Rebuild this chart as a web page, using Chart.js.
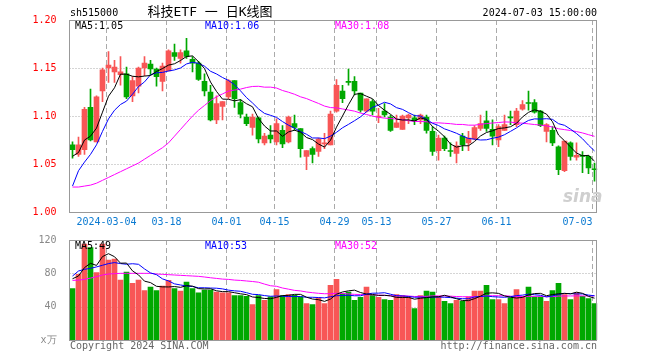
<!DOCTYPE html>
<html><head><meta charset="utf-8">
<script src="https://cdn.jsdelivr.net/npm/chart.js@4.4.0/dist/chart.umd.min.js"></script>
<style>
body{margin:0;background:#fff;width:660px;height:360px;overflow:hidden;position:relative;font-family:"DejaVu Sans Mono","Liberation Mono",monospace;}
canvas{position:absolute;left:0;top:0;}
.t{position:absolute;font-size:10px;white-space:nowrap;line-height:12px;}
</style></head><body>
<canvas id="pc" width="660" height="360"></canvas>
<canvas id="vc" width="660" height="360"></canvas>
<div class="t" style="left:70px;top:7px;color:#000">sh515000</div>
<div class="t" style="left:110px;width:200px;text-align:center;top:4px;font-size:13px;line-height:16px;font-family:'DejaVu Sans Mono','Noto Sans CJK SC',monospace;color:#000">科技ETF 一 日K线图</div>
<div class="t" style="right:63px;top:7px;color:#000">2024-07-03 15:00:00</div>
<div class="t" style="left:75px;top:20px;color:#000">MA5:1.05</div>
<div class="t" style="left:205px;top:20px;color:#0000ff">MA10:1.06</div>
<div class="t" style="left:335px;top:20px;color:#ff00ff">MA30:1.08</div>
<div class="t" style="left:75px;top:240px;color:#000">MA5:49</div>
<div class="t" style="left:205px;top:240px;color:#0000ff">MA10:53</div>
<div class="t" style="left:335px;top:240px;color:#ff00ff">MA30:52</div>
<div class="t" style="left:70px;top:340px;color:#666">Copyright 2024 SINA.COM</div>
<div class="t" style="right:63px;top:340px;color:#666">http://finance.sina.com.cn</div>
<div class="t" style="left:563px;top:186px;font-size:17px;line-height:20px;font-style:italic;font-weight:bold;font-family:'DejaVu Sans',sans-serif;color:#cfcfcf">sina</div>
<script>
const dates = [
'2024-02-23','2024-02-26','2024-02-27','2024-02-28','2024-02-29','2024-03-01','2024-03-04','2024-03-05','2024-03-06','2024-03-07',
'2024-03-08','2024-03-11','2024-03-12','2024-03-13','2024-03-14','2024-03-15','2024-03-18','2024-03-19','2024-03-20','2024-03-21',
'2024-03-22','2024-03-25','2024-03-26','2024-03-27','2024-03-28','2024-03-29','2024-04-01','2024-04-02','2024-04-03','2024-04-08',
'2024-04-09','2024-04-10','2024-04-11','2024-04-12','2024-04-15','2024-04-16','2024-04-17','2024-04-18','2024-04-19','2024-04-22',
'2024-04-23','2024-04-24','2024-04-25','2024-04-26','2024-04-29','2024-04-30','2024-05-06','2024-05-07','2024-05-08','2024-05-09',
'2024-05-10','2024-05-13','2024-05-14','2024-05-15','2024-05-16','2024-05-17','2024-05-20','2024-05-21','2024-05-22','2024-05-23',
'2024-05-24','2024-05-27','2024-05-28','2024-05-29','2024-05-30','2024-05-31','2024-06-03','2024-06-04','2024-06-05','2024-06-06',
'2024-06-07','2024-06-11','2024-06-12','2024-06-13','2024-06-14','2024-06-17','2024-06-18','2024-06-19','2024-06-20','2024-06-21',
'2024-06-24','2024-06-25','2024-06-26','2024-06-27','2024-06-28','2024-07-01','2024-07-02','2024-07-03'];
const tickDates = ['2024-03-04','2024-03-18','2024-04-01','2024-04-15','2024-04-29','2024-05-13','2024-05-27','2024-06-11','2024-07-03'];
const tickTexts = ['2024-03-04','03-18','04-01','04-15','04-29','05-13','05-27','06-11','07-03'];
const openP = [
1.070,1.060,1.065,1.109,1.073,1.126,1.150,1.146,1.143,1.144,
1.121,1.131,1.150,1.154,1.149,1.136,1.147,1.166,1.160,1.168,
1.159,1.155,1.136,1.125,1.096,1.110,1.120,1.137,1.114,1.099,
1.088,1.098,1.072,1.080,1.073,1.085,1.073,1.092,1.087,1.058,
1.066,1.063,1.071,1.070,1.105,1.126,1.136,1.136,1.124,1.105,
1.115,1.099,1.105,1.099,1.088,1.086,1.098,1.098,1.096,1.099,
1.084,1.064,1.077,1.064,1.061,1.079,1.072,1.076,1.087,1.095,
1.086,1.075,1.085,1.099,1.091,1.107,1.114,1.114,1.105,1.084,
1.085,1.068,1.043,1.072,1.057,1.059,1.058,1.045];
const highP = [
1.073,1.078,1.109,1.128,1.121,1.150,1.167,1.158,1.162,1.151,
1.141,1.151,1.162,1.158,1.150,1.155,1.169,1.175,1.169,1.181,
1.162,1.157,1.144,1.132,1.121,1.115,1.138,1.137,1.117,1.102,
1.102,1.099,1.082,1.090,1.097,1.090,1.100,1.101,1.087,1.064,
1.068,1.077,1.082,1.105,1.138,1.132,1.149,1.141,1.124,1.118,
1.117,1.108,1.113,1.101,1.101,1.101,1.102,1.101,1.102,1.101,
1.089,1.080,1.079,1.072,1.073,1.082,1.084,1.090,1.101,1.105,
1.096,1.091,1.101,1.105,1.108,1.116,1.126,1.117,1.106,1.092,
1.089,1.069,1.074,1.073,1.072,1.063,1.059,1.051];
const lowP = [
1.056,1.058,1.060,1.074,1.073,1.115,1.135,1.135,1.132,1.118,
1.115,1.124,1.142,1.143,1.131,1.126,1.147,1.158,1.155,1.160,
1.146,1.137,1.121,1.095,1.092,1.096,1.118,1.109,1.098,1.090,
1.080,1.072,1.070,1.072,1.070,1.067,1.072,1.085,1.057,1.044,
1.051,1.058,1.066,1.070,1.104,1.114,1.132,1.122,1.104,1.104,
1.101,1.093,1.099,1.084,1.088,1.086,1.092,1.091,1.092,1.082,
1.059,1.054,1.064,1.058,1.051,1.064,1.064,1.075,1.085,1.084,
1.070,1.068,1.085,1.091,1.089,1.106,1.106,1.103,1.089,1.073,
1.069,1.039,1.042,1.054,1.054,1.041,1.040,1.032];
const closeP = [
1.065,1.070,1.107,1.075,1.120,1.148,1.153,1.151,1.146,1.120,
1.137,1.150,1.155,1.149,1.141,1.152,1.168,1.162,1.166,1.162,
1.155,1.138,1.126,1.096,1.113,1.115,1.137,1.118,1.102,1.092,
1.099,1.076,1.079,1.076,1.092,1.071,1.099,1.088,1.066,1.064,
1.060,1.076,1.072,1.102,1.132,1.118,1.135,1.126,1.106,1.118,
1.105,1.100,1.101,1.085,1.093,1.100,1.101,1.095,1.101,1.085,
1.063,1.077,1.066,1.063,1.069,1.070,1.077,1.088,1.092,1.087,
1.079,1.089,1.091,1.098,1.105,1.112,1.113,1.104,1.090,1.091,
1.072,1.044,1.074,1.058,1.059,1.058,1.046,1.044];
const volume = [
61.8,78.8,115,111,80.8,115,96,97,72,81.6,
68,72,59.4,63.4,59.4,64.6,71.5,61.8,58.6,69.5,
61.8,56.6,59.8,59.8,57.4,56.6,56.6,53.3,53.3,52.5,
42.4,53.3,47.7,51.7,60.6,53.3,54.5,53.7,51.7,43.6,
42.4,50.5,43.6,65.5,72.7,55.8,57.4,47.7,51.3,63.4,
53.7,51.3,48.5,47.7,54.5,53.3,51.7,37.6,53.3,58.6,
57.4,52.5,46.5,43.6,47.7,46.5,51.7,58.6,58.6,65.5,
48.5,48.5,43.6,50.5,60.6,52.5,63.4,51.7,51.7,46.5,
59.4,67.9,54.5,48.5,56.6,52.5,49.7,43.6];
// moving-average values for the bars before a full window exists
const ma5Lead = [1.058,1.062,1.075,1.079];
const ma10Lead = [1.027,1.043,1.052,1.060,1.070,1.084,1.097,1.106,1.112];
const ma30Lead = [1.026,1.026,1.027,1.028,1.030,1.033,1.036,1.039,1.042,1.045,1.048,1.051,1.055,1.059,1.063,1.067,1.072,1.079,1.086,1.093,1.100,1.106,1.111,1.116,1.120,1.123,1.126,1.127,1.128];
const vma5Lead = [73.5,76.8,86.9,92.0];
const vma10Lead = [76.8,82.8,84.8,86.0,87.7,89.7,91.7,92.9,91.7];
const vma30Lead = [71.5,71.9,72.7,74.3,76.0,78.0,79.2,79.6,80,80,80,80,80,80,79.2,78.8,78.4,78.0,77.6,77.2,76.8,76.4,75.6,74.7,73.9,73.1,72.7,71.9,71.5];
const priceTicks = [1.00,1.05,1.10,1.15,1.20];
const volTicks = [0,40,80,120];

const RED = '#f85656', GREEN = '#00a800';
function movingAvg(vals, n, lead){
  return vals.map((v,i)=> i < n-1 ? lead[i] : vals.slice(i-n+1,i+1).reduce((a,b)=>a+b,0)/n);
}
const up = closeP.map((c,i)=> c >= openP[i]);
const colors = up.map(u=> u ? RED : GREEN);

function lineDs(data,color){
  return {type:'line',data,borderColor:color,borderWidth:1,pointRadius:0,tension:0,fill:false,order:0};
}
const tickIdx = tickDates.map(d=>dates.indexOf(d));

function gridPlugin(hLines, drawLabels){
  return {
    id:'gridframe',
    beforeDatasetsDraw(chart){
      const {ctx, chartArea:a, scales:{x,y}} = chart;
      ctx.save();
      ctx.strokeStyle = '#aaa'; ctx.lineWidth = 1;
      ctx.setLineDash([1,2]);
      hLines.forEach(v=>{
        const py = Math.round(y.getPixelForValue(v)) + 0.5;
        ctx.beginPath(); ctx.moveTo(a.left, py); ctx.lineTo(a.right, py); ctx.stroke();
      });
      ctx.setLineDash([5,3]);
      tickIdx.forEach(i=>{
        const px = x.getPixelForValue(i) - 2;
        ctx.beginPath(); ctx.moveTo(px, a.top); ctx.lineTo(px, a.bottom); ctx.stroke();
      });
      ctx.restore();
    },
    afterDatasetsDraw(chart){
      const {ctx, chartArea:a} = chart;
      ctx.save();
      ctx.strokeStyle = '#999'; ctx.lineWidth = 1;
      ctx.strokeRect(Math.floor(a.left)+0.5, Math.floor(a.top)+0.5, Math.round(a.right-a.left)-1, Math.round(a.bottom-a.top));
      ctx.restore();
    },
    afterDraw(chart){
      if(!drawLabels) return;
      const {ctx, chartArea:a, scales:{x}} = chart;
      ctx.save();
      ctx.fillStyle = '#0b7ad1';
      ctx.font = '10px "DejaVu Sans Mono", monospace';
      ctx.textBaseline = 'middle';
      tickIdx.forEach((i,k)=>{
        const px = x.getPixelForValue(i) - 2;
        ctx.textAlign = (k === tickIdx.length-1) ? 'right' : 'center';
        ctx.fillText(tickTexts[k], px, a.bottom + 10);
      });
      ctx.restore();
    }
  };
}

const yFit = s => { s.width = 69.5; };

new Chart(document.getElementById('pc'), {
  type:'bar',
  data:{labels:dates, datasets:[
    lineDs(movingAvg(closeP,5,ma5Lead),'#000000'),
    lineDs(movingAvg(closeP,10,ma10Lead),'#0000ff'),
    lineDs(movingAvg(closeP,30,ma30Lead),'#ff00ff'),
    {type:'bar',data:lowP.map((l,i)=>[l,highP[i]]),backgroundColor:colors,barThickness:1,grouped:false,borderWidth:0,order:2},
    {type:'bar',data:openP.map((o,i)=>[o,closeP[i]]),backgroundColor:colors,barThickness:5,grouped:false,borderWidth:0,minBarLength:1,order:1}
  ]},
  options:{
    responsive:false, animation:false, devicePixelRatio:1,
    layout:{padding:{left:0,right:62.5,top:20,bottom:148}},
    plugins:{legend:{display:false},tooltip:{enabled:false}},
    scales:{
      x:{display:false, offset:true},
      y:{min:1.00,max:1.20,afterFit:yFit,
         afterBuildTicks:s=>{s.ticks = priceTicks.map(v=>({value:v}));},
         grid:{display:false},border:{display:false},
         ticks:{color:'#ff0000',padding:5,font:{family:'DejaVu Sans Mono',size:10},callback:v=>Number(v).toFixed(2)}}
    }
  },
  plugins:[gridPlugin([1.05,1.10,1.15], true)]
});

const vcolors = colors;
new Chart(document.getElementById('vc'), {
  type:'bar',
  data:{labels:dates, datasets:[
    lineDs(movingAvg(volume,5,vma5Lead),'#000000'),
    lineDs(movingAvg(volume,10,vma10Lead),'#0000ff'),
    lineDs(movingAvg(volume,30,vma30Lead),'#ff00ff'),
    {type:'bar',data:volume,backgroundColor:vcolors,barThickness:5,borderWidth:0,order:1}
  ]},
  options:{
    responsive:false, animation:false, devicePixelRatio:1,
    layout:{padding:{left:0,right:62.5,top:240,bottom:20}},
    plugins:{legend:{display:false},tooltip:{enabled:false}},
    scales:{
      x:{display:false, offset:true},
      y:{min:0,max:120,afterFit:yFit,
         afterBuildTicks:s=>{s.ticks = volTicks.map(v=>({value:v}));},
         grid:{display:false},border:{display:false},
         ticks:{color:'#888888',padding:5,font:{family:'DejaVu Sans Mono',size:10},callback:v=> v===0 ? 'x万' : String(v)}}
    }
  },
  plugins:[gridPlugin([40,80], false)]
});
</script>
</body></html>
